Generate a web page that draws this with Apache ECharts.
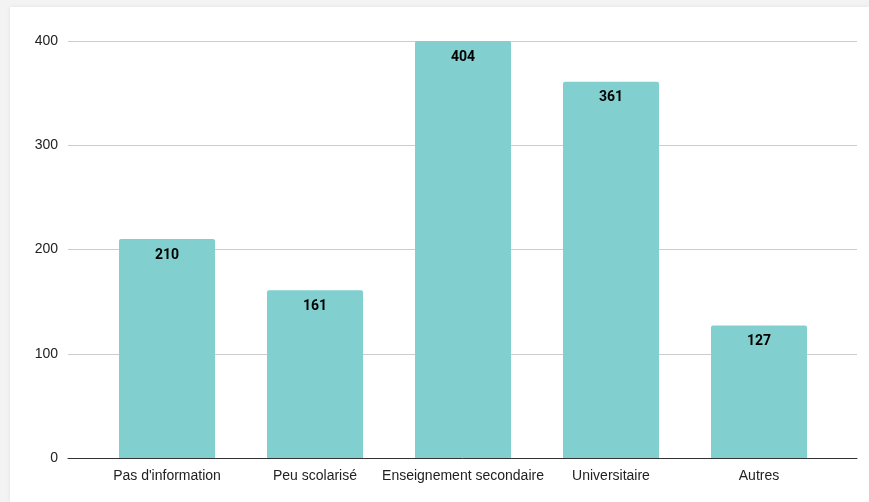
<!DOCTYPE html>
<html>
<head>
<meta charset="utf-8">
<script src="https://cdn.jsdelivr.net/npm/echarts@6/dist/echarts.min.js"></script>
<style>
  html, body { margin: 0; padding: 0; background: #f3f3f3; }
  #card { position: absolute; left: 10px; top: 7px; width: 859px; height: 495px; background: #fff; box-shadow: 0 0 4px rgba(0,0,0,0.08); }
  #chart { position: absolute; left: 0; top: 0; width: 869px; height: 502px; }
</style>
</head>
<body>
<div id="card"></div>
<div id="chart"></div>
<script>
// niveaux d'études
const categories = ["Pas d'information", 'Peu scolarisé', 'Enseignement secondaire', 'Universitaire', 'Autres'];
const values = [210, 161, 404, 361, 127];
const yTicks = { min: 0, max: 400, interval: 100 };

const chart = echarts.init(document.getElementById('chart'));

const option = {
  animation: false,
  // grid 0 : lignes de grille + axe (pleine largeur), grid 1 : barres
  grid: [
    { left: 68, right: 12, top: 41, bottom: 44 },
    { left: 93, right: 36, top: 41, bottom: 44 }
  ],
  xAxis: [
    {
      gridIndex: 0,
      type: 'category',
      data: [''],
      axisLine: { show: true, lineStyle: { color: '#333', width: 1 } },
      axisTick: { show: false },
      axisLabel: { show: false }
    },
    {
      gridIndex: 1,
      type: 'category',
      data: categories,
      axisLine: { show: false },
      axisTick: { show: false },
      axisLabel: { color: '#222', fontSize: 14, fontFamily: 'Arial, "Liberation Sans", sans-serif', margin: 11, interval: 0 }
    }
  ],
  yAxis: [
    {
      gridIndex: 0,
      type: 'value',
      min: yTicks.min,
      max: yTicks.max,
      interval: yTicks.interval,
      axisLine: { show: false },
      axisTick: { show: false },
      axisLabel: { color: '#222', fontSize: 14, fontFamily: 'Arial, "Liberation Sans", sans-serif', margin: 10 },
      splitLine: { lineStyle: { color: '#cccccc', width: 1 } }
    },
    {
      gridIndex: 1,
      type: 'value',
      min: yTicks.min,
      max: yTicks.max,
      show: false,
      splitLine: { show: false }
    }
  ],
  series: [
    {
      type: 'bar',
      xAxisIndex: 0,
      yAxisIndex: 0,
      data: []
    },
    {
      type: 'bar',
      xAxisIndex: 1,
      yAxisIndex: 1,
      data: values,
      barWidth: 96,
      itemStyle: { color: '#81cfcf', borderRadius: [2, 2, 0, 0] },
      label: {
        show: true,
        position: 'insideTop',
        distance: 9,
        color: '#000',
        fontSize: 14,
        fontWeight: 'bold',
        fontFamily: 'Roboto, sans-serif'
      }
    }
  ]
};

chart.setOption(option);
</script>
</body>
</html>
